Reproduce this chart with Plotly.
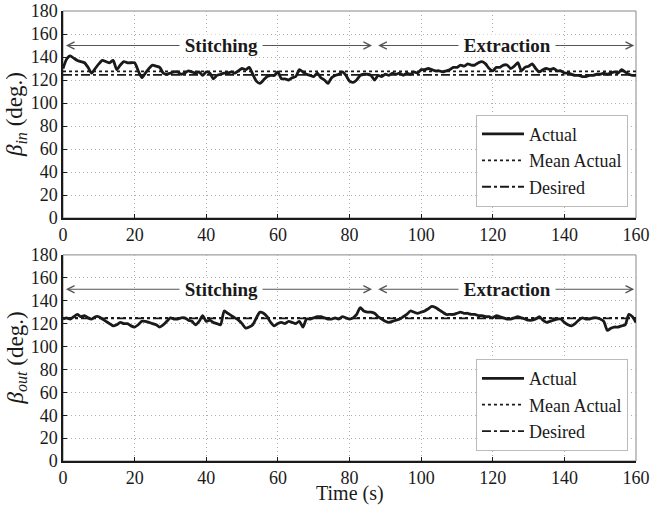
import plotly.graph_objects as go

time_s = list(range(0, 161))

beta_in = [130, 138, 141, 139, 137, 136, 135, 131, 126, 130,
           134, 137, 136, 135, 137, 129, 133, 136, 135, 135,
           135, 128, 122, 126, 130, 133, 132, 131, 126, 125,
           126, 127, 127, 125, 126, 128, 127, 126, 127, 124,
           127, 126, 121, 124, 125, 126, 126, 127, 126, 128,
           130, 129, 131, 125, 119, 117, 120, 123, 124, 124,
           127, 121, 121, 120, 122, 123, 129, 127, 125, 124,
           123, 126, 122, 120, 117, 122, 124, 125, 127, 124,
           119, 118, 120, 124, 125, 125, 124, 120, 124, 123,
           125, 124, 126, 125, 126, 124, 126, 125, 127, 126,
           129, 129, 130, 129, 128, 128, 127, 128, 129, 131,
           131, 133, 132, 134, 133, 133, 135, 136, 134, 130,
           128, 131, 131, 133, 133, 130, 132, 135, 128, 131,
           132, 134, 130, 127, 129, 130, 129, 130, 128, 128,
           126, 126, 125, 124, 124, 123, 123, 124, 124, 125,
           125, 126, 125, 126, 127, 126, 129, 127, 125, 124,
           124]

beta_out = [124, 125, 124, 126, 128, 126, 127, 125, 124, 126,
            126, 124, 122, 120, 118, 119, 121, 120, 120, 118,
            117, 119, 122, 122, 121, 120, 119, 117, 119, 122,
            125, 124, 124, 125, 125, 123, 122, 119, 122, 127,
            122, 123, 121, 120, 119, 131, 129, 127, 125, 123,
            120, 116, 117, 119, 125, 130, 129, 126, 121, 118,
            120, 121, 120, 122, 121, 120, 122, 117, 124, 124,
            125, 126, 126, 125, 124, 124, 125, 124, 126, 125,
            124, 125, 128, 134, 131, 130, 130, 129, 126, 124,
            122, 121, 122, 123, 124, 126, 128, 131, 130, 129,
            130, 131, 133, 135, 134, 132, 130, 128, 128, 128,
            129, 130, 129, 129, 128, 128, 127, 127, 126, 126,
            125, 127, 126, 125, 124, 124, 125, 126, 125, 124,
            123, 123, 124, 126, 123, 121, 122, 123, 124, 124,
            121, 119, 118, 120, 123, 125, 124, 124, 125, 125,
            124, 122, 114, 116, 117, 117, 118, 119, 128, 126,
            121]

mean_in = 127.5
mean_out = 125.0
desired = 124.5

x_ticks = [0, 20, 40, 60, 80, 100, 120, 140, 160]
y_ticks = [0, 20, 40, 60, 80, 100, 120, 140, 160, 180]

y_titles = ["<i>β<sub>in</sub></i> (deg.)", "<i>β<sub>out</sub></i> (deg.)"]
x_title = "Time (s)"

phase_names = ["Stitching", "Extraction"]
phase_start = [0.8, 88.0]
phase_end = [86.3, 159.5]
phase_label_x = [44, 124]
phase_y = 150

FONT = "Liberation Serif"
INK = "#1a1a1a"
TOP_DOMAIN = [0.54, 1.0]
BOT_DOMAIN = [0.0, 0.458]

fig = go.Figure()

panels = [
    (beta_in, mean_in, "x", "y", "legend"),
    (beta_out, mean_out, "x2", "y2", "legend2"),
]
for vals, mval, xa, ya, lg in panels:
    fig.add_trace(go.Scatter(x=time_s, y=vals, mode="lines", name="Actual",
                             line=dict(color=INK, width=2.8, shape="spline", smoothing=0.6),
                             xaxis=xa, yaxis=ya, legend=lg))
    fig.add_trace(go.Scatter(x=[time_s[0], time_s[-1]], y=[mval, mval], mode="lines",
                             name="Mean Actual", line=dict(color=INK, width=1.8, dash="dot"),
                             xaxis=xa, yaxis=ya, legend=lg))
    fig.add_trace(go.Scatter(x=[time_s[0], time_s[-1]], y=[desired, desired], mode="lines",
                             name="Desired", line=dict(color=INK, width=1.8, dash="dashdot"),
                             xaxis=xa, yaxis=ya, legend=lg))

annotations = []
shapes = []
for (xa, ya), dom, yt in zip([("x", "y"), ("x2", "y2")], [TOP_DOMAIN, BOT_DOMAIN], y_titles):
    for name, s, e, cx in zip(phase_names, phase_start, phase_end, phase_label_x):
        for tip in (s, e):
            annotations.append(dict(x=tip, y=phase_y, ax=cx, ay=phase_y, xref=xa, yref=ya,
                                    axref=xa, ayref=ya, text="", showarrow=True,
                                    arrowhead=5, arrowsize=1.4, arrowwidth=1,
                                    arrowcolor="#555"))
        annotations.append(dict(x=cx, y=phase_y, xref=xa, yref=ya,
                                text="&nbsp;<b>%s</b>&nbsp;" % name,
                                showarrow=False, bgcolor="white", borderpad=0,
                                font=dict(family=FONT, size=19, color=INK)))
    annotations.append(dict(x=-0.081, y=(dom[0] + dom[1]) / 2, xref="paper", yref="paper",
                            text=yt, textangle=-90, showarrow=False, xanchor="center",
                            yanchor="middle", font=dict(family=FONT, size=23, color=INK)))
    shapes.append(dict(type="rect", xref=xa + " domain", yref=ya + " domain",
                       x0=0, x1=1, y0=0, y1=1, line=dict(color="#888", width=1), layer="below"))

annotations.append(dict(x=0.5, y=-0.103, xref="paper", yref="paper", text=x_title,
                        showarrow=False, xanchor="center", yanchor="bottom",
                        font=dict(family=FONT, size=20, color=INK)))

axis_common = dict(showline=True, linecolor=INK, linewidth=1.5, ticks="inside", ticklen=4,
                   tickcolor=INK, showgrid=True, gridcolor="#b0b0b0", griddash="1px,3px",
                   gridwidth=1, zeroline=False, automargin=False,
                   tickfont=dict(family=FONT, size=18, color=INK))

fig.update_layout(
    width=652, height=508,
    margin=dict(l=63, r=16, t=11, b=47),
    paper_bgcolor="white", plot_bgcolor="white",
    font=dict(family=FONT, size=18, color=INK),
    xaxis=dict(domain=[0, 1], range=[0, 160], tickvals=x_ticks, anchor="y", **axis_common),
    yaxis=dict(domain=TOP_DOMAIN, range=[0, 180], tickvals=y_ticks, anchor="x", **axis_common),
    xaxis2=dict(domain=[0, 1], range=[0, 160], tickvals=x_ticks, anchor="y2", **axis_common),
    yaxis2=dict(domain=BOT_DOMAIN, range=[0, 180], tickvals=y_ticks, anchor="x2", **axis_common),
    legend=dict(x=0.986, y=0.565, xanchor="right", yanchor="bottom", bgcolor="white",
                bordercolor="#bbb", borderwidth=1, font=dict(family=FONT, size=18, color=INK),
                tracegroupgap=0, itemwidth=42),
    legend2=dict(x=0.986, y=0.022, xanchor="right", yanchor="bottom", bgcolor="white",
                 bordercolor="#bbb", borderwidth=1, font=dict(family=FONT, size=18, color=INK),
                 tracegroupgap=0, itemwidth=42),
    annotations=annotations,
    shapes=shapes,
    showlegend=True,
)

fig.write_html("out.html", config={"displayModeBar": False},
               post_script="document.body.style.margin='0';")
